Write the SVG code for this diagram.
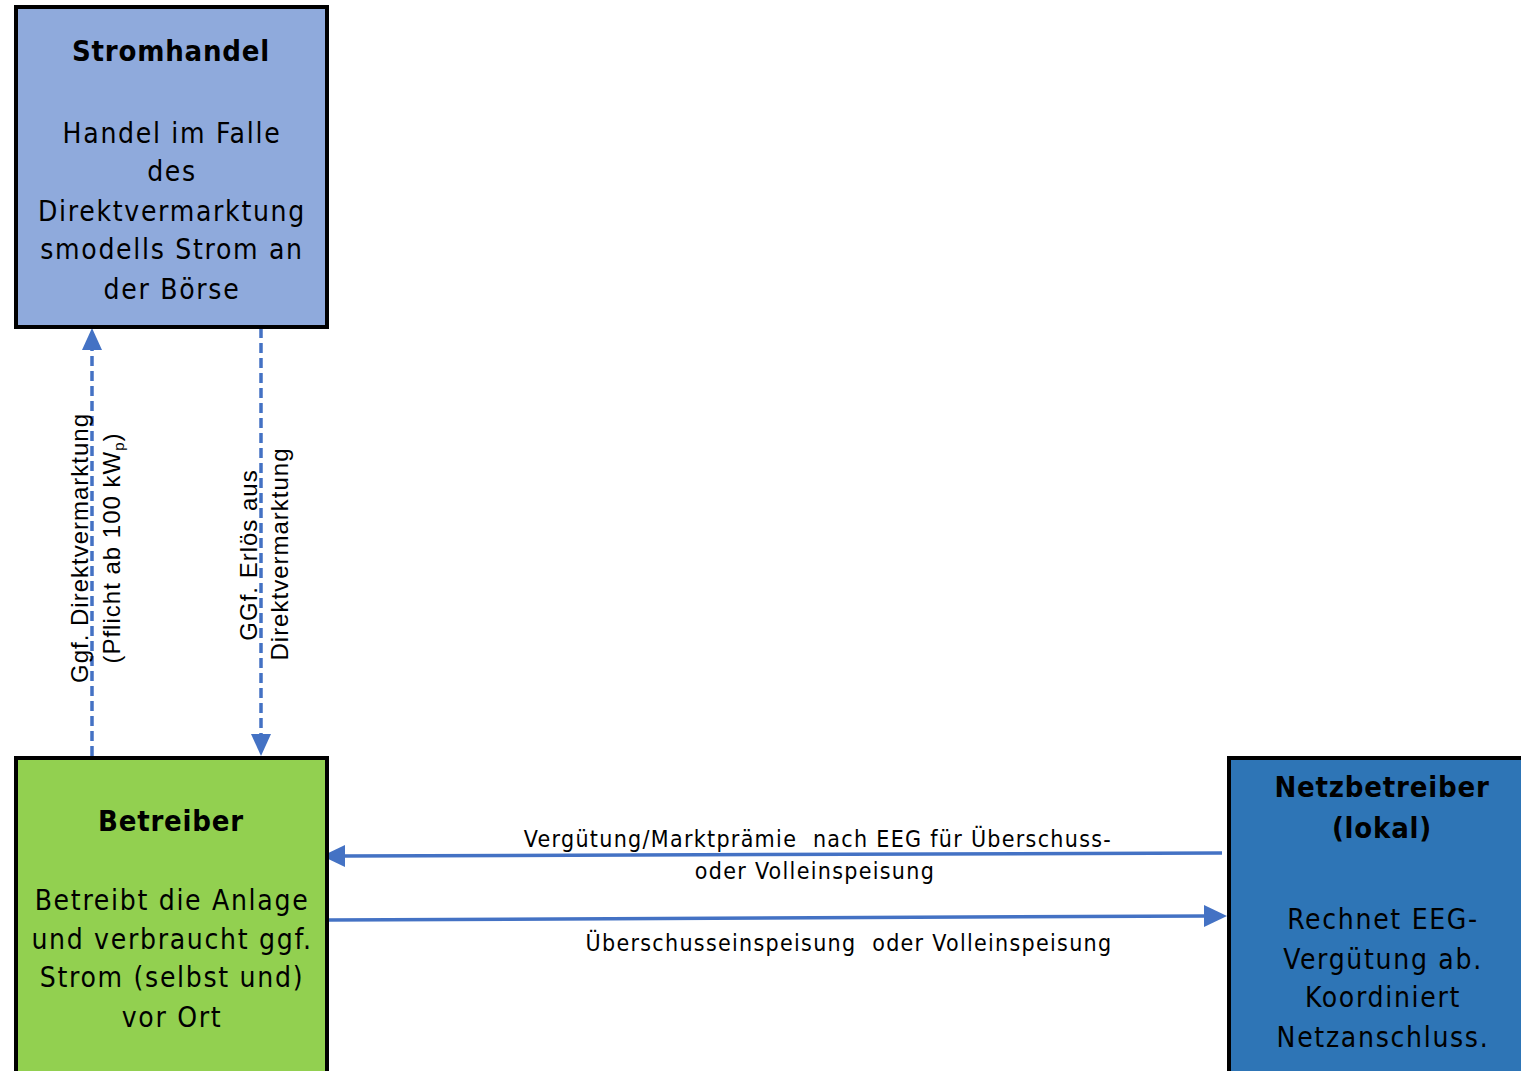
<svg xmlns="http://www.w3.org/2000/svg" width="1521" height="1071" viewBox="0 0 1521 1071">
<style>
.box{stroke:#000;stroke-width:4}
.t{font-family:"DejaVu Sans Condensed","Liberation Sans Narrow","Liberation Sans",sans-serif;font-size:28px;letter-spacing:1.7px;fill:#000;text-anchor:middle}
.b{font-weight:bold;font-size:29px;letter-spacing:0.8px}
.lbl{font-family:"DejaVu Sans Condensed","Liberation Sans",sans-serif;font-size:23px;letter-spacing:1.3px;fill:#000;text-anchor:middle}
.rl{font-family:"Liberation Sans",Arial,sans-serif;font-size:24px;letter-spacing:1px;fill:#000;text-anchor:middle}
.c{stroke:#4472C4;stroke-width:3.5;fill:none}
.d{stroke-dasharray:10 5}
</style>
<rect width="1521" height="1071" fill="#fff"/>
<g id="connectors">
<line class="c d" x1="92" y1="756" x2="92" y2="348"/>
<path d="M92,328 L82,350 L102,350 z" fill="#4472C4"/>
<line class="c d" x1="261" y1="328" x2="261" y2="736"/>
<path d="M261,756 L251,734 L271,734 z" fill="#4472C4"/>
<line class="c" x1="1222" y1="853" x2="342" y2="856"/>
<path d="M322,856 L345,845 L345,867 z" fill="#4472C4"/>
<line class="c" x1="328" y1="920" x2="1207" y2="916"/>
<path d="M1227,916 L1204,905 L1204,927 z" fill="#4472C4"/>
<text class="rl" transform="translate(88,548) rotate(-90)">Ggf. Direktvermarktung</text>
<text class="rl" transform="translate(120,548) rotate(-90)">(Pflicht ab 100 kW<tspan font-size="15" dy="4">p</tspan><tspan dy="-4">)</tspan></text>
<text class="rl" transform="translate(257,555) rotate(-90)">GGf. Erlös aus</text>
<text class="rl" transform="translate(288,554) rotate(-90)">Direktvermarktung</text>
<text class="lbl" x="818" y="847" xml:space="preserve">Vergütung/Marktprämie  nach EEG für Überschuss-</text>
<text class="lbl" x="815" y="879">oder Volleinspeisung</text>
<text class="lbl" x="849" y="951" xml:space="preserve">Überschusseinspeisung  oder Volleinspeisung</text>
</g>
<g id="stromhandel">
<rect class="box" x="16" y="7" width="311" height="320" fill="#8FAADC"/>
<text class="t b" x="171" y="61">Stromhandel</text>
<text class="t" x="172" y="143">Handel im Falle</text>
<text class="t" x="172" y="181">des</text>
<text class="t" x="172" y="221">Direktvermarktung</text>
<text class="t" x="172" y="259">smodells Strom an</text>
<text class="t" x="172" y="299">der Börse</text>
</g>
<g id="betreiber">
<rect class="box" x="16" y="758" width="311" height="320" fill="#92D050"/>
<text class="t b" x="171" y="831">Betreiber</text>
<text class="t" x="172" y="910">Betreibt die Anlage</text>
<text class="t" x="172" y="949">und verbraucht ggf.</text>
<text class="t" x="172" y="987">Strom (selbst und)</text>
<text class="t" x="172" y="1027">vor Ort</text>
</g>
<g id="netzbetreiber">
<rect class="box" x="1229" y="758" width="300" height="320" fill="#2E75B6"/>
<text class="t b" x="1382" y="797">Netzbetreiber</text>
<text class="t b" x="1382" y="838">(lokal)</text>
<text class="t" x="1383" y="929">Rechnet EEG-</text>
<text class="t" x="1383" y="969">Vergütung ab.</text>
<text class="t" x="1383" y="1007">Koordiniert</text>
<text class="t" x="1383" y="1047">Netzanschluss.</text>
</g>
</svg>
